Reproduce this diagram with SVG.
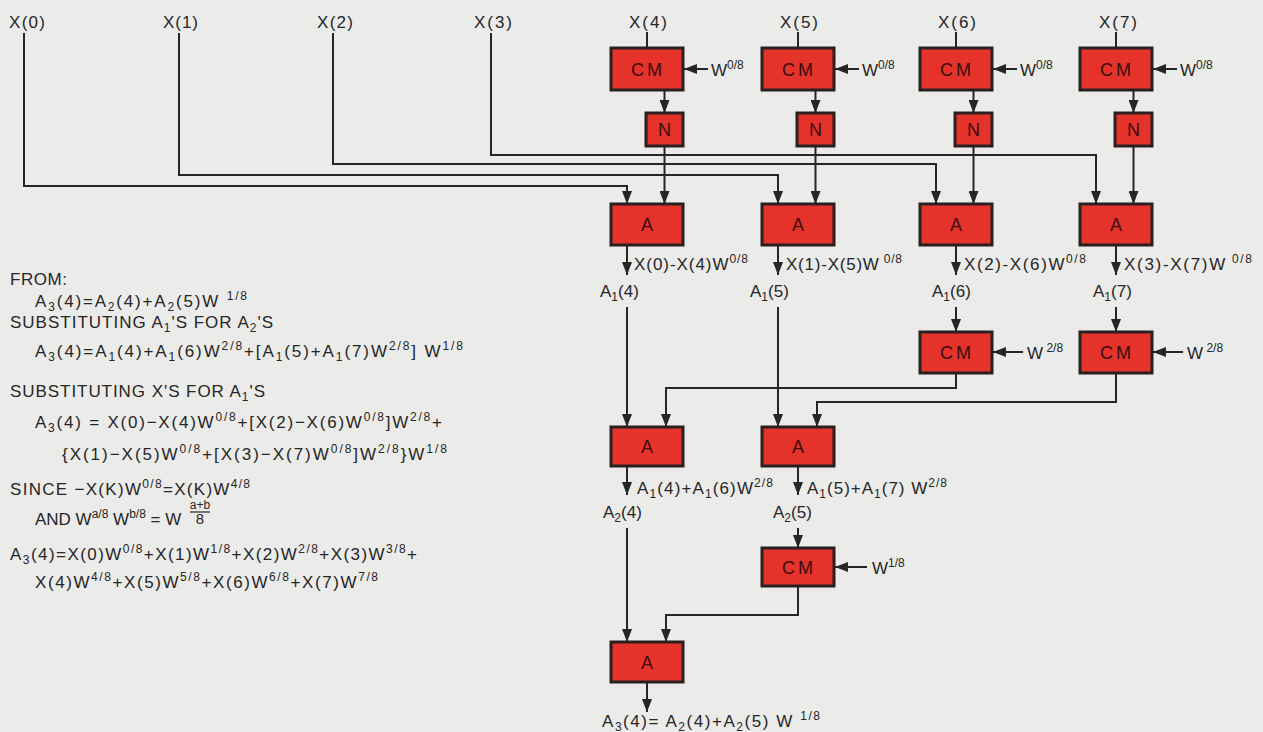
<svg xmlns="http://www.w3.org/2000/svg" width="1263" height="732" viewBox="0 0 1263 732">
<defs>
<style>
.box{fill:#e5322b;stroke:#2b2020;stroke-width:3}
.bt{font-family:'Liberation Sans',Arial,sans-serif;font-size:18px;fill:#3a0e0e;text-anchor:middle}
.t{font-family:'Liberation Sans',Arial,sans-serif;font-size:17px;fill:#262626}
.fr{font-family:'Liberation Sans',Arial,sans-serif;fill:#262626;text-anchor:middle}
.sup{font-size:12px;baseline-shift:7px}
.sub{font-size:12px;baseline-shift:-4px}
.c{fill:none;stroke:#262626;stroke-width:2}
.a{marker-end:url(#ah)}
</style>
<marker id="ah" markerUnits="userSpaceOnUse" markerWidth="13" markerHeight="10" refX="13" refY="5" orient="auto">
<path d="M0,0 L13,5 L0,10 z" fill="#262626"/>
</marker>
</defs>
<rect width="1263" height="732" fill="#ebebe9"/>

<g id="connectors">
<path class="c a" d="M24,33 V186 H627 V204"/>
<path class="c a" d="M179,33 V175 H778 V204"/>
<path class="c a" d="M333,33 V164 H936 V204"/>
<path class="c a" d="M491,33 V155 H1096 V204"/>
<path class="c" d="M647,32 V48"/>
<path class="c" d="M798,32 V48"/>
<path class="c" d="M956,32 V48"/>
<path class="c" d="M1116,32 V48"/>
<path class="c a" d="M664.5,90 V113"/>
<path class="c a" d="M815.5,90 V113"/>
<path class="c a" d="M973.5,90 V113"/>
<path class="c a" d="M1133.5,90 V113"/>
<path class="c a" d="M664.5,146 V204"/>
<path class="c a" d="M815.5,146 V204"/>
<path class="c a" d="M973.5,146 V204"/>
<path class="c a" d="M1133.5,146 V204"/>
<path class="c a" d="M708,69 H684"/>
<path class="c a" d="M859,69 H835"/>
<path class="c a" d="M1017,69 H993"/>
<path class="c a" d="M1177,69 H1153"/>
<path class="c a" d="M627,245 V275"/>
<path class="c a" d="M778,245 V275"/>
<path class="c a" d="M956,245 V275"/>
<path class="c a" d="M1116,245 V275"/>
<path class="c a" d="M627,307 V427"/>
<path class="c a" d="M778,307 V427"/>
<path class="c a" d="M956,307 V332"/>
<path class="c a" d="M1116,307 V332"/>
<path class="c a" d="M1023,352 H993"/>
<path class="c a" d="M1183,352 H1153"/>
<path class="c a" d="M956,373 V388 H666 V427"/>
<path class="c a" d="M1116,373 V402 H817 V427"/>
<path class="c a" d="M627,466 V495"/>
<path class="c a" d="M798,466 V495"/>
<path class="c a" d="M798,528 V548"/>
<path class="c a" d="M867,567 H835"/>
<path class="c a" d="M627,528 V642"/>
<path class="c a" d="M798,586 V615 H666 V642"/>
<path class="c a" d="M647,682 V712"/>
</g>

<g id="inputs">
<text class="t" x="9" y="28" textLength="36" lengthAdjust="spacing">X(0)</text>
<text class="t" x="163" y="28" textLength="35" lengthAdjust="spacing">X(1)</text>
<text class="t" x="317" y="28" textLength="36" lengthAdjust="spacing">X(2)</text>
<text class="t" x="474" y="28" textLength="38" lengthAdjust="spacing">X(3)</text>
<text class="t" x="629" y="28" textLength="38" lengthAdjust="spacing">X(4)</text>
<text class="t" x="780" y="28" textLength="38" lengthAdjust="spacing">X(5)</text>
<text class="t" x="938" y="28" textLength="38" lengthAdjust="spacing">X(6)</text>
<text class="t" x="1099" y="28" textLength="38" lengthAdjust="spacing">X(7)</text>
</g>

<g id="cm1"><rect class="box" x="611" y="48" width="72" height="42"/><text class="bt" x="648" y="76" letter-spacing="3">CM</text></g>
<g id="cm2"><rect class="box" x="762" y="48" width="72" height="42"/><text class="bt" x="799" y="76" letter-spacing="3">CM</text></g>
<g id="cm3"><rect class="box" x="920" y="48" width="72" height="42"/><text class="bt" x="957" y="76" letter-spacing="3">CM</text></g>
<g id="cm4"><rect class="box" x="1080" y="48" width="72" height="42"/><text class="bt" x="1117" y="76" letter-spacing="3">CM</text></g>

<g id="n1"><rect class="box" x="646" y="113" width="37" height="33"/><text class="bt" x="664.5" y="136">N</text></g>
<g id="n2"><rect class="box" x="797" y="113" width="37" height="33"/><text class="bt" x="815.5" y="136">N</text></g>
<g id="n3"><rect class="box" x="955" y="113" width="37" height="33"/><text class="bt" x="973.5" y="136">N</text></g>
<g id="n4"><rect class="box" x="1115" y="113" width="37" height="33"/><text class="bt" x="1133.5" y="136">N</text></g>

<g id="a1"><rect class="box" x="611" y="204" width="72" height="41"/><text class="bt" x="647" y="231">A</text></g>
<g id="a2"><rect class="box" x="762" y="204" width="72" height="41"/><text class="bt" x="798" y="231">A</text></g>
<g id="a3"><rect class="box" x="920" y="204" width="72" height="41"/><text class="bt" x="956" y="231">A</text></g>
<g id="a4"><rect class="box" x="1080" y="204" width="72" height="41"/><text class="bt" x="1116" y="231">A</text></g>

<g id="cm5"><rect class="box" x="920" y="332" width="72" height="41"/><text class="bt" x="957" y="359" letter-spacing="3">CM</text></g>
<g id="cm6"><rect class="box" x="1080" y="332" width="72" height="41"/><text class="bt" x="1117" y="359" letter-spacing="3">CM</text></g>

<g id="a5"><rect class="box" x="611" y="427" width="72" height="39"/><text class="bt" x="647" y="453">A</text></g>
<g id="a6"><rect class="box" x="762" y="427" width="72" height="39"/><text class="bt" x="798" y="453">A</text></g>

<g id="cm7"><rect class="box" x="762" y="548" width="72" height="38"/><text class="bt" x="799" y="574" letter-spacing="3">CM</text></g>

<g id="a7"><rect class="box" x="611" y="642" width="72" height="40"/><text class="bt" x="647" y="669">A</text></g>

<g id="weights">
<text class="t" x="711" y="76">W<tspan class="sup">0/8</tspan></text>
<text class="t" x="862" y="76">W<tspan class="sup">0/8</tspan></text>
<text class="t" x="1020" y="76">W<tspan class="sup">0/8</tspan></text>
<text class="t" x="1180" y="76">W<tspan class="sup">0/8</tspan></text>
<text class="t" x="1027" y="359">W<tspan class="sup"> 2/8</tspan></text>
<text class="t" x="1187" y="359">W<tspan class="sup"> 2/8</tspan></text>
<text class="t" x="872" y="574">W<tspan class="sup">1/8</tspan></text>
</g>

<g id="labels">
<text class="t" x="634" y="270" textLength="114" lengthAdjust="spacing">X(0)-X(4)W<tspan class="sup">0/8</tspan></text>
<text class="t" x="786" y="270" textLength="116" lengthAdjust="spacing">X(1)-X(5)W<tspan class="sup"> 0/8</tspan></text>
<text class="t" x="964" y="270" textLength="122" lengthAdjust="spacing">X(2)-X(6)W<tspan class="sup">0/8</tspan></text>
<text class="t" x="1124" y="270" textLength="128" lengthAdjust="spacing">X(3)-X(7)W<tspan class="sup"> 0/8</tspan></text>
<text class="t" x="600" y="297">A<tspan class="sub">1</tspan><tspan>(4)</tspan></text>
<text class="t" x="750" y="297">A<tspan class="sub">1</tspan><tspan>(5)</tspan></text>
<text class="t" x="932" y="297">A<tspan class="sub">1</tspan><tspan>(6)</tspan></text>
<text class="t" x="1093" y="297">A<tspan class="sub">1</tspan><tspan>(7)</tspan></text>
<text class="t" x="637" y="494" textLength="136" lengthAdjust="spacing">A<tspan class="sub">1</tspan><tspan>(4)+A</tspan><tspan class="sub">1</tspan><tspan>(6)W</tspan><tspan class="sup">2/8</tspan></text>
<text class="t" x="807" y="494" textLength="140" lengthAdjust="spacing">A<tspan class="sub">1</tspan><tspan>(5)+A</tspan><tspan class="sub">1</tspan><tspan>(7) W</tspan><tspan class="sup">2/8</tspan></text>
<text class="t" x="603" y="518">A<tspan class="sub">2</tspan><tspan>(4)</tspan></text>
<text class="t" x="773" y="518">A<tspan class="sub">2</tspan><tspan>(5)</tspan></text>
<text class="t" x="602" y="727" textLength="218" lengthAdjust="spacing">A<tspan class="sub">3</tspan><tspan>(4)= A</tspan><tspan class="sub">2</tspan><tspan>(4)+A</tspan><tspan class="sub">2</tspan><tspan>(5) W </tspan><tspan class="sup">1/8</tspan></text>
</g>

<g id="derivation">
<text class="t" x="10" y="285" textLength="57" lengthAdjust="spacing">FROM:</text>
<text class="t" x="35" y="307" textLength="212" lengthAdjust="spacing">A<tspan class="sub">3</tspan><tspan>(4)=A</tspan><tspan class="sub">2</tspan><tspan>(4)+A</tspan><tspan class="sub">2</tspan><tspan>(5)W </tspan><tspan class="sup">1/8</tspan></text>
<text class="t" x="10" y="328" textLength="263" lengthAdjust="spacing">SUBSTITUTING A<tspan class="sub">1</tspan><tspan>'S FOR A</tspan><tspan class="sub">2</tspan><tspan>'S</tspan></text>
<text class="t" x="35" y="357" textLength="428" lengthAdjust="spacing">A<tspan class="sub">3</tspan><tspan>(4)=A</tspan><tspan class="sub">1</tspan><tspan>(4)+A</tspan><tspan class="sub">1</tspan><tspan>(6)W</tspan><tspan class="sup">2/8</tspan><tspan>+[A</tspan><tspan class="sub">1</tspan><tspan>(5)+A</tspan><tspan class="sub">1</tspan><tspan>(7)W</tspan><tspan class="sup">2/8</tspan><tspan>] W</tspan><tspan class="sup">1/8</tspan></text>
<text class="t" x="10" y="397" textLength="255" lengthAdjust="spacing">SUBSTITUTING X'S FOR A<tspan class="sub">1</tspan><tspan>'S</tspan></text>
<text class="t" x="35" y="428" textLength="407" lengthAdjust="spacing">A<tspan class="sub">3</tspan><tspan>(4) = X(0)−X(4)W</tspan><tspan class="sup">0/8</tspan><tspan>+[X(2)−X(6)W</tspan><tspan class="sup">0/8</tspan><tspan>]W</tspan><tspan class="sup">2/8</tspan><tspan>+</tspan></text>
<text class="t" x="62" y="460" textLength="385" lengthAdjust="spacing">{X(1)−X(5)W<tspan class="sup">0/8</tspan><tspan>+[X(3)−X(7)W</tspan><tspan class="sup">0/8</tspan><tspan>]W</tspan><tspan class="sup">2/8</tspan><tspan>}W</tspan><tspan class="sup">1/8</tspan></text>
<text class="t" x="10" y="495" textLength="240" lengthAdjust="spacing">SINCE  −X(K)W<tspan class="sup">0/8</tspan><tspan>=X(K)W</tspan><tspan class="sup">4/8</tspan></text>
<text class="t" x="35" y="525">AND W<tspan class="sup">a/8</tspan><tspan> W</tspan><tspan class="sup">b/8</tspan><tspan> = W</tspan></text>
<text class="fr" x="200" y="509" font-size="12">a+b<tspan x="200" dy="15" font-size="15">8</tspan></text>
<line x1="190" y1="512" x2="210" y2="512" stroke="#262626" stroke-width="1.2"/>
<text class="t" x="10" y="560" textLength="407" lengthAdjust="spacing">A<tspan class="sub">3</tspan><tspan>(4)=X(0)W</tspan><tspan class="sup">0/8</tspan><tspan>+X(1)W</tspan><tspan class="sup">1/8</tspan><tspan>+X(2)W</tspan><tspan class="sup">2/8</tspan><tspan>+X(3)W</tspan><tspan class="sup">3/8</tspan><tspan>+</tspan></text>
<text class="t" x="35" y="588" textLength="343" lengthAdjust="spacing">X(4)W<tspan class="sup">4/8</tspan><tspan>+X(5)W</tspan><tspan class="sup">5/8</tspan><tspan>+X(6)W</tspan><tspan class="sup">6/8</tspan><tspan>+X(7)W</tspan><tspan class="sup">7/8</tspan></text>
</g>
</svg>
